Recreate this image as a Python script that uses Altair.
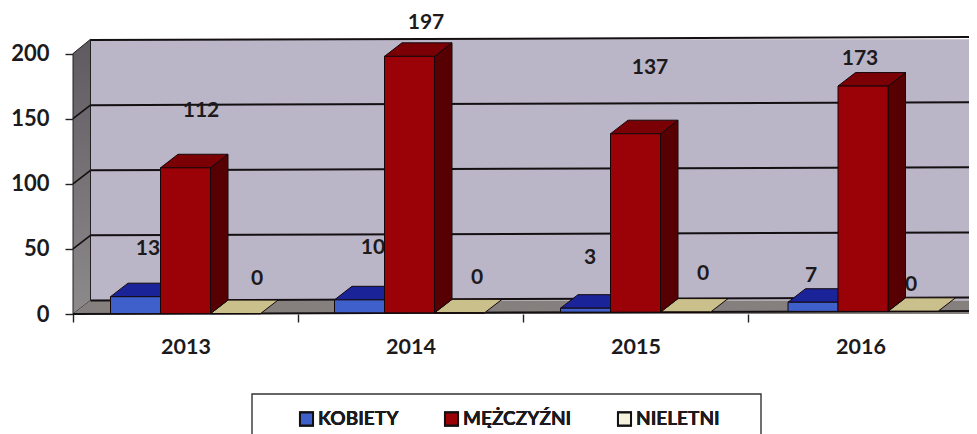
import altair as alt
import pandas as pd

# ---- values
years = ["2013", "2014", "2015", "2016"]
series = ["KOBIETY", "MĘŻCZYŹNI", "NIELETNI"]
kobiety = [13, 10, 3, 7]
mezczyzni = [112, 197, 137, 173]
nieletni = [0, 0, 0, 0]

# ---- layout (image pixels)
X0, Y0, PX_U, PX_V = 73, 314, 225, 1.3
PLOT_W = 896
U_MAX = PLOT_W / PX_U
FONT = "Lato"
INK = "#1c1a1c"
front = ["#3f5fcb", "#9b0208", "#f4f1dc"]
top_col = ["#1b2399", "#7a0006", "#c9c08c"]
side_col = ["#141a70", "#560004", "#c9c08c"]
BAR = 50 / PX_U
GAP = 37.5 / PX_U
DU = 17.5 / PX_U
DV = 13.5 / PX_V
TILT = 0.58  # scan tilt, value units per category
SCAN_SHIFT = [0, -1, 0, 2.5]  # uneven group placement in the scan, pixels

vals = {series[0]: kobiety, series[1]: mezczyzni, series[2]: nieletni}
label_px = {
    series[0]: [(148, 249), (373, 248), (590, 258), (811, 276)],
    series[1]: [(201, 111), (426, 23), (650, 68), (860, 59)],
    series[2]: [(257, 279), (477, 278), (703, 274), (911, 285)],
}

fronts, tops, sides, labels = [], [], [], []
for s_i, s in enumerate(series):
    for c_i, y in enumerate(years):
        v = vals[s][c_i]
        l = c_i + GAP + s_i * BAR + SCAN_SHIFT[c_i] / PX_U
        r = l + BAR
        b = TILT * (c_i + 0.5)
        key = f"{s}-{y}"
        fronts.append(dict(s=s, si=s_i, l=l, r=r, v=v + b, b=b))
        tops += [
            dict(s=s, si=s_i, k=key, yy=v + b, x1=l, x2=r, f=top_col[s_i]),
            dict(s=s, si=s_i, k=key, yy=v + b + DV, x1=l + DU, x2=r + DU, f=top_col[s_i]),
        ]
        sides += [
            dict(s=s, si=s_i, k=key, xx=r, y1=v + b, y2=b, f=side_col[s_i]),
            dict(s=s, si=s_i, k=key, xx=r + DU, y1=v + b + DV, y2=b + DV, f=side_col[s_i]),
        ]
        px, py = label_px[s][c_i]
        labels.append(dict(si=s_i, t=str(v), u=(px - X0) / PX_U, w=(Y0 - py) / PX_V))

fronts, tops, sides, labels = map(pd.DataFrame, (fronts, tops, sides, labels))

x_scale = alt.Scale(domain=[0, U_MAX], nice=False, zero=False)
y_scale = alt.Scale(domain=[0, 235], nice=False, zero=False)
XE = lambda f: alt.X(f, type="quantitative", scale=x_scale, title=None)
YE = lambda f: alt.Y(f, type="quantitative", scale=y_scale, title=None)

# walls
wall_df = pd.DataFrame({"x1": [DU], "x2": [4.2], "y1": [DV], "y2": [200 + DV + 0.6]})
wall = alt.Chart(wall_df).mark_rect(fill="#bab5c7", clip=False).encode(
    x=XE("x1"), x2="x2", y=YE("y1"), y2="y2")

side_df = pd.DataFrame({"xx": [0, DU], "y1": [200, 200 + DV + 0.6], "y2": [0, DV]})
side_wall = alt.Chart(side_df).mark_area(
    stroke="#222222", strokeWidth=1,
    fill=alt.Gradient(gradient="linear", x1=0, y1=0, x2=0, y2=1,
                      stops=[alt.GradientStop(color="#5f5a60", offset=0),
                             alt.GradientStop(color="#8d8a8c", offset=1)]),
).encode(x=XE("xx"), y=YE("y1"), y2="y2")

floor_df = pd.DataFrame({"yy": [0, DV], "x1": [0, DU], "x2": [4.1, 4.1 + DU]})
floor = alt.Chart(floor_df).mark_area(orient="horizontal", fill="#85807e").encode(
    y=YE("yy"), x=XE("x1"), x2="x2")

# back-wall gridlines
grid_df = pd.DataFrame({
    "x1": [DU] * 5, "x2": [4.2] * 5,
    "y1": [g + DV for g in [0, 50, 100, 150, 200]],
    "y2": [g + DV + 2.4 for g in [0, 50, 100, 150, 200]],
})
grid = alt.Chart(grid_df).mark_rule(color="#140f11", strokeWidth=2).encode(
    x=XE("x1"), x2="x2", y=YE("y1"), y2="y2")

# left ends of the gridlines on the side wall
diag_rows = []
for g in [50, 100, 150]:
    diag_rows += [dict(k=g, xx=0, yy=g), dict(k=g, xx=DU, yy=g + DV)]
diag = alt.Chart(pd.DataFrame(diag_rows)).mark_line(color="#140f11", strokeWidth=1.6).encode(
    x=XE("xx"), y=YE("yy"), detail="k:N")

base_df = pd.DataFrame({"x1": [0], "x2": [4.2], "y1": [0], "y2": [2.4]})
base = alt.Chart(base_df).mark_rule(color="#141012", strokeWidth=2).encode(
    x=XE("x1"), x2="x2", y=YE("y1"), y2="y2")


def faces(i):
    t = tops[tops.si == i]
    d = sides[sides.si == i]
    f = fronts[fronts.si == i]
    side = alt.Chart(d).mark_area(stroke="#14080a", strokeWidth=1).encode(
        x=XE("xx"), y=YE("y1"), y2="y2", detail="k:N",
        fill=alt.Fill("f:N", scale=None))
    top = alt.Chart(t).mark_area(orient="horizontal", stroke="#14080a", strokeWidth=1).encode(
        y=YE("yy"), x=XE("x1"), x2="x2", detail="k:N",
        fill=alt.Fill("f:N", scale=None))
    fr = alt.Chart(f).mark_rect(stroke="#14080a", strokeWidth=1).encode(
        x=XE("l"), x2="r", y=YE("v"), y2="b",
        fill=alt.Fill("s:N", scale=alt.Scale(domain=series, range=front),
                      legend=alt.Legend(
                          title=None, orient="none", direction="horizontal",
                          legendX=297 - 8 - 65, legendY=409 - 8, columns=3,
                          symbolType="square", symbolSize=170,
                          symbolStrokeColor="#111111", symbolStrokeWidth=2,
                          symbolOpacity=1,
                          labelFont=FONT, labelFontSize=19, labelFontWeight="bold",
                          labelColor=INK, labelOffset=2, columnPadding=41,
                          labelLimit=200)))
    if i != 2:
        return [side, top, fr]
    return [top, fr]


def text_layer(i):
    return alt.Chart(labels[labels.si == i]).mark_text(
        font=FONT, fontSize=21, fontWeight="bold", color=INK, align="center", baseline="middle",
    ).encode(x=XE("u"), y=YE("w"), text="t:N")


# axes
axis_df = pd.DataFrame({"u": [0.0], "w": [0.0]})
labels_js = "[" + ",".join(f"'{y}'" for y in years) + "]"
axes = alt.Chart(axis_df).mark_point(opacity=0).encode(
    x=alt.X("u:Q", scale=x_scale, title=None, axis=alt.Axis(
        values=[0, 0.5, 1, 1.5, 2, 2.5, 3, 3.5],
        labelExpr=f"datum.value % 1 == 0 ? '' : {labels_js}[floor(datum.value)]",
        tickOpacity={"condition": {"test": "datum.value % 1 != 0", "value": 0}, "value": 1},
        tickColor="#222222", tickSize=8, tickWidth=1.4, grid=False, domain=False,
        labelFont=FONT, labelFontSize=21.5, labelFontWeight="bold", labelColor=INK,
        labelPadding=14, labelOverlap=False, labelBound=False, labelFlush=False)),
    y=alt.Y("w:Q", scale=y_scale, title=None, axis=alt.Axis(
        values=[0, 50, 100, 150, 200], tickColor="#222222", tickSize=8, tickWidth=1.4,
        grid=False, domain=False,
        labelFont=FONT, labelFontSize=22, labelFontWeight="bold", labelColor=INK,
        labelPadding=16)),
)

# frame around the legend
box = alt.Chart(axis_df).mark_rect(fill="white", stroke="#333333", strokeWidth=1.4, clip=False).encode(
    x=alt.value(252 - 8 - 65), x2=alt.value(761 - 8 - 65),
    y=alt.value(394 - 8), y2=alt.value(470),
)

chart = alt.layer(
    wall, side_wall, floor, grid, diag, base, box,
    *faces(0), text_layer(0), text_layer(2), *faces(2), *faces(1),
    text_layer(1), axes,
).resolve_scale(fill="independent").properties(
    width=PLOT_W,
    height=306,
    padding={"left": 65, "top": 0, "right": 0, "bottom": 120},
    autosize=alt.AutoSizeParams(type="none"),
    background="white",
).configure_view(stroke=None)

chart.save("out.html", embed_options={"renderer": "svg", "actions": False})
